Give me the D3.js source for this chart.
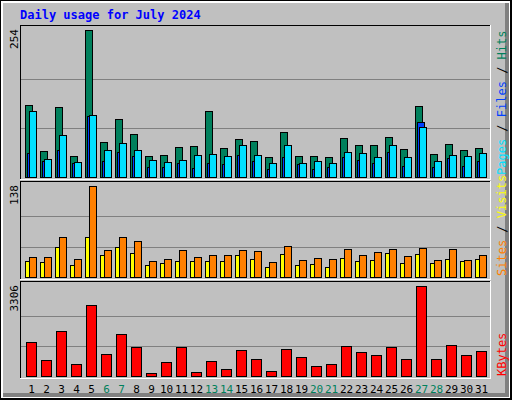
<!DOCTYPE html>
<html><head><meta charset="utf-8">
<script src="https://cdn.jsdelivr.net/npm/d3@7"></script>
<style>body{margin:0;background:#fff}svg text{font-family:"DejaVu Sans Mono",monospace}</style>
</head><body><div id="chart"></div>
<script>
var days = d3.range(1, 32);
var weekend = [6, 7, 13, 14, 20, 21, 27, 28];
var hits = [124,45,121,36,254,60,100,74,36,38,52,54,114,50,66,62,35,78,36,36,35,67,55,55,69,48,123,40,57,47,50];
var files = [41,28,47,24,105,28,43,36,17,17,24,16,24,22,38,28,14,35,22,14,17,35,29,24,43,19,95,17,33,19,28];
var pages = [114,31,73,26,107,47,59,47,29,26,29,38,40,36,55,38,24,55,24,28,24,43,41,35,55,35,86,28,38,36,41];
var sites = [24,23,45,18,61,33,45,36,18,21,24,24,24,24,33,27,15,35,18,20,15,29,24,26,36,21,35,21,27,24,27];
var visits = [30,30,61,27,138,41,60,54,24,27,41,30,33,33,41,39,23,47,26,29,27,42,33,38,42,32,44,26,42,26,33];
var kbytes = [1246,592,1645,447,2590,810,1536,1064,120,519,1064,156,556,265,955,628,192,991,701,374,447,1100,882,773,1064,628,3306,628,1137,773,918];

var W = 512, H = 400;
var svg = d3.select("#chart").append("svg").attr("width", W).attr("height", H);

// frame
svg.append("rect").attr("x", 0).attr("y", 0).attr("width", W).attr("height", H).attr("fill", "#000");
svg.append("rect").attr("x", 1).attr("y", 1).attr("width", W - 3).attr("height", H - 3).attr("fill", "#fff");
svg.append("rect").attr("x", 3).attr("y", 3).attr("width", W - 6).attr("height", H - 6).attr("fill", "#808080");
svg.append("rect").attr("x", 3).attr("y", 3).attr("width", W - 10).attr("height", H - 10).attr("fill", "#c0c0c0");

svg.append("text").attr("x", 20).attr("y", 19).attr("fill", "#0000ff")
	.attr("font-size", 12).attr("font-weight", "bold").text("Daily usage for July 2024");

var x = d3.scaleBand().domain(days).range([24, 24 + 15 * 31]);

var panels = [
	{top: 25, bottom: 177, max: 254, label: "254"},
	{top: 181, bottom: 277, max: 138, label: "138"},
	{top: 281, bottom: 376, max: 3306, label: "3306"}
];

panels.forEach(function(p) {
	svg.append("rect").attr("x", 20).attr("y", p.top).attr("width", 471).attr("height", p.bottom - p.top + 2)
		.attr("fill", "#c0c0c0").attr("stroke", "none");
	svg.append("line").attr("x1", 20).attr("x2", 491).attr("y1", p.top + 0.5).attr("y2", p.top + 0.5).attr("stroke", "#000");
	svg.append("line").attr("x1", 20.5).attr("x2", 20.5).attr("y1", p.top).attr("y2", p.bottom + 2).attr("stroke", "#000");
	svg.append("line").attr("x1", 20).attr("x2", 491).attr("y1", p.bottom + 2.5).attr("y2", p.bottom + 2.5).attr("stroke", "#fff");
	svg.append("line").attr("x1", 490.5).attr("x2", 490.5).attr("y1", p.top).attr("y2", p.bottom + 2).attr("stroke", "#fff");
	p.y = d3.scaleLinear().domain([0, p.max]).range([p.bottom, p.top + 5]);
	var h = p.bottom - p.top - 5;
	[1, 2].forEach(function(k) {
		var gy = Math.round(p.bottom - h * k / 3) + 0.5;
		svg.append("line").attr("x1", 21).attr("x2", 490).attr("y1", gy).attr("y2", gy).attr("stroke", "#808080");
	});
	svg.append("text").attr("transform", "translate(18," + (p.top + 4) + ") rotate(-90)")
		.attr("text-anchor", "end").attr("font-size", 11).attr("fill", "#000").text(p.label);
});

function bars(vals, panel, off, w, fill) {
	var y = panel.y;
	svg.append("g").selectAll("rect").data(vals).enter().append("rect")
		.attr("x", function(d, i) { return x(days[i]) + off + 0.5; })
		.attr("y", function(d) { return Math.round(y(d)) + 0.5; })
		.attr("width", w)
		.attr("height", function(d) { return Math.max(0, panel.bottom - Math.round(y(d))); })
		.attr("fill", fill).attr("stroke", "#000");
}

bars(hits, panels[0], 1, 7, "#00805c");
bars(files, panels[0], 3, 7, "#0040ff");
bars(pages, panels[0], 5, 7, "#00e0ff");
bars(sites, panels[1], 1, 7, "#ffff00");
bars(visits, panels[1], 5, 7, "#ff8000");
bars(kbytes, panels[2], 2, 10, "#ff0000");

svg.append("g").selectAll("text").data(days).enter().append("text")
	.attr("x", function(d) { return x(d) + 7.5; })
	.attr("y", 393).attr("text-anchor", "middle").attr("font-size", 11)
	.attr("fill", function(d) { return weekend.indexOf(d) >= 0 ? "#00805c" : "#000"; })
	.text(function(d) { return d; });

function sideLabel(y0, parts) {
	var t = svg.append("text").attr("transform", "translate(506," + y0 + ") rotate(-90)")
		.attr("text-anchor", "start").attr("font-size", 12);
	parts.forEach(function(p) { t.append("tspan").attr("fill", p[1]).text(p[0]); });
}
sideLabel(175, [["Pages", "#00e0ff"], [" / ", "#000"], ["Files", "#0040ff"], [" / ", "#000"], ["Hits", "#00805c"]]);
sideLabel(276, [["Sites", "#ff8000"], [" / ", "#000"], ["Visits", "#ffff00"]]);
sideLabel(376, [["KBytes", "#ff0000"]]);
</script></body></html>
